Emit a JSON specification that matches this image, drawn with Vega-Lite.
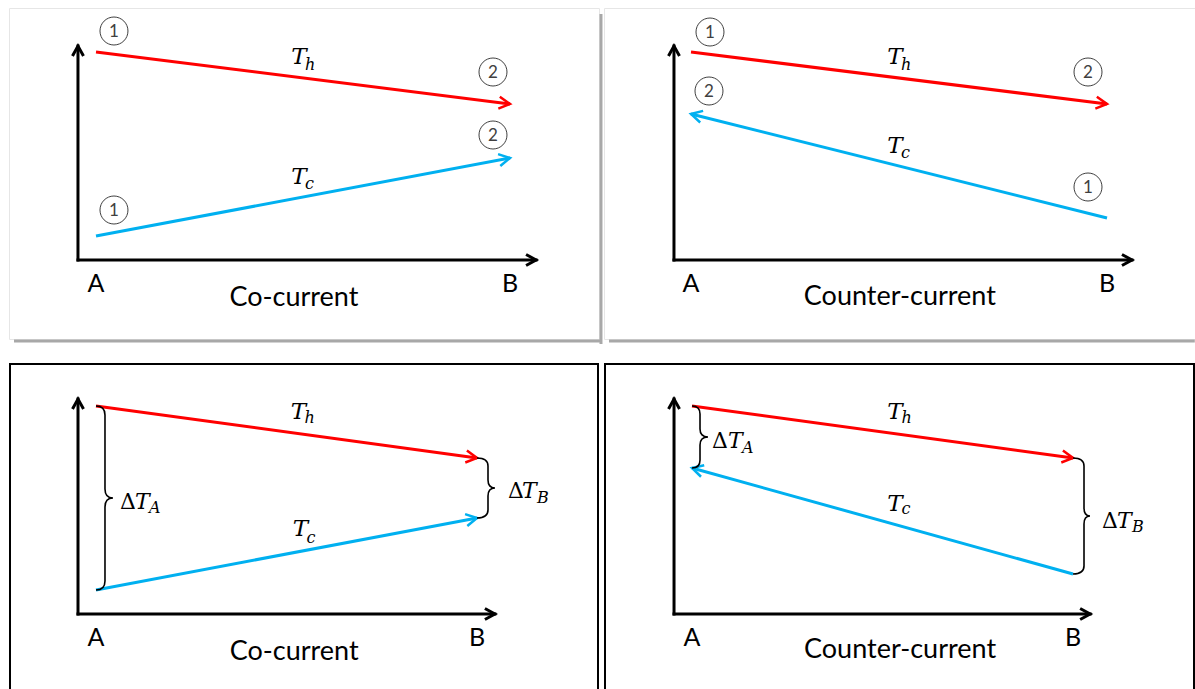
{
  "$schema": "https://vega.github.io/schema/vega-lite/v6.json",
  "background": "white",
  "padding": {"left": 8, "top": 7, "right": 0, "bottom": 0},
  "config": {"view": {"stroke": null}, "text": {"font": "Lato", "fill": "black"}},
  "datasets": {
    "streams": [
      {"fig": "co1", "stream": "h", "state": 1, "end": "A", "pos": 0, "T": 104},
      {"fig": "co1", "stream": "h", "state": 2, "end": "B", "pos": 100, "T": 78},
      {"fig": "co1", "stream": "c", "state": 1, "end": "A", "pos": 0, "T": 12},
      {"fig": "co1", "stream": "c", "state": 2, "end": "B", "pos": 100, "T": 51},
      {"fig": "counter1", "stream": "h", "state": 1, "end": "A", "pos": 0, "T": 104},
      {"fig": "counter1", "stream": "h", "state": 2, "end": "B", "pos": 100, "T": 78},
      {"fig": "counter1", "stream": "c", "state": 2, "end": "A", "pos": 0, "T": 73},
      {"fig": "counter1", "stream": "c", "state": 1, "end": "B", "pos": 100, "T": 21},
      {"fig": "co2", "stream": "h", "state": 1, "end": "A", "pos": 0, "T": 104},
      {"fig": "co2", "stream": "h", "state": 2, "end": "B", "pos": 100, "T": 78},
      {"fig": "co2", "stream": "c", "state": 1, "end": "A", "pos": 0, "T": 12},
      {"fig": "co2", "stream": "c", "state": 2, "end": "B", "pos": 100, "T": 48},
      {"fig": "counter2", "stream": "h", "state": 1, "end": "A", "pos": 0, "T": 104},
      {"fig": "counter2", "stream": "h", "state": 2, "end": "B", "pos": 100, "T": 78},
      {"fig": "counter2", "stream": "c", "state": 2, "end": "A", "pos": 0, "T": 73},
      {"fig": "counter2", "stream": "c", "state": 1, "end": "B", "pos": 100, "T": 20}
    ]
  },
  "columns": 2,
  "bounds": "flush",
  "spacing": {"row": 24, "column": 5},
  "concat": [
    {
      "width": 590, "height": 331,
      "view": {"stroke": "#e6e6e6", "strokeWidth": 1},
      "layer": [
        {"data": {"name": "streams"}, "transform": [{"filter": "datum.fig=='co1'"}], "mark": {"type": "line", "strokeWidth": 3},
         "encoding": {
           "x": {"field": "pos", "type": "quantitative", "scale": {"domain": [-21.01, 121.5], "nice": false, "zero": false}, "axis": null},
           "y": {"field": "T", "type": "quantitative", "scale": {"domain": [-39.5, 126], "nice": false, "zero": false}, "axis": null},
           "color": {"field": "stream", "type": "nominal", "scale": {"domain": ["h", "c"], "range": ["#ff0000", "#00b0f0"]}, "legend": null}}},
        {"data": {"values": [{}]}, "mark": {"type": "rule", "stroke": "#a8a8a8", "strokeWidth": 3}, "encoding": {"x": {"datum": 121.98, "axis": null}, "y": {"datum": 123, "axis": null}, "y2": {"datum": -42}}},
        {"data": {"values": [{}]}, "mark": {"type": "rule", "stroke": "#a8a8a8", "strokeWidth": 3}, "encoding": {"y": {"datum": -40.5, "axis": null}, "x": {"datum": -19.8, "axis": null}, "x2": {"datum": 122.2}}},
        {"data": {"values": [{}]}, "mark": {"type": "rule", "stroke": "black", "strokeWidth": 3, "strokeCap": "square"}, "encoding": {"x": {"datum": -4.35, "axis": null}, "y": {"datum": 0, "axis": null}, "y2": {"datum": 107}}},
        {"data": {"values": [{}]}, "mark": {"type": "rule", "stroke": "black", "strokeWidth": 3, "strokeCap": "square"}, "encoding": {"y": {"datum": 0, "axis": null}, "x": {"datum": -4.35, "axis": null}, "x2": {"datum": 106.3}}},
        {"data": {"values": [{}]}, "mark": {"type": "point", "shape": "M-10,-5.5L0,0L-10,5.5", "size": 4, "filled": false, "stroke": "black", "strokeWidth": 3, "opacity": 1, "angle": 270}, "encoding": {"x": {"datum": -4.35, "axis": null}, "y": {"datum": 107, "axis": null}}},
        {"data": {"values": [{}]}, "mark": {"type": "point", "shape": "M-10,-5.5L0,0L-10,5.5", "size": 4, "filled": false, "stroke": "black", "strokeWidth": 3, "opacity": 1, "angle": 0}, "encoding": {"x": {"datum": 106.3, "axis": null}, "y": {"datum": 0, "axis": null}}},
        {"data": {"name": "streams"}, "transform": [{"filter": "datum.fig=='co1'&&datum.stream=='h'&&datum.state==2"}], "mark": {"type": "point", "shape": "M-11,-6L0,0L-11,6", "size": 4, "filled": false, "stroke": "#ff0000", "strokeWidth": 2.5, "opacity": 1, "angle": 7.16}, "encoding": {"x": {"field": "pos", "type": "quantitative", "axis": null}, "y": {"field": "T", "type": "quantitative", "axis": null}}},
        {"data": {"name": "streams"}, "transform": [{"filter": "datum.fig=='co1'&&datum.stream=='c'&&datum.state==2"}], "mark": {"type": "point", "shape": "M-11,-6L0,0L-11,6", "size": 4, "filled": false, "stroke": "#00b0f0", "strokeWidth": 2.5, "opacity": 1, "angle": 349.33}, "encoding": {"x": {"field": "pos", "type": "quantitative", "axis": null}, "y": {"field": "T", "type": "quantitative", "axis": null}}},
        {"data": {"name": "streams"}, "transform": [{"filter": "datum.fig=='co1'&&datum.stream=='h'&&datum.state==1"}], "mark": {"type": "point", "shape": "M32,-21A14,14,0,1,1,4,-21A14,14,0,1,1,32,-21Z", "size": 4, "filled": false, "stroke": "#404040", "strokeWidth": 1, "opacity": 1}, "encoding": {"x": {"field": "pos", "type": "quantitative", "axis": null}, "y": {"field": "T", "type": "quantitative", "axis": null}}},
        {"data": {"name": "streams"}, "transform": [{"filter": "datum.fig=='co1'&&datum.stream=='h'&&datum.state==1"}], "mark": {"type": "text", "dx": 18, "dy": -20, "fontSize": 17, "fill": "#404040", "align": "center", "baseline": "middle"}, "encoding": {"x": {"field": "pos", "type": "quantitative", "axis": null}, "y": {"field": "T", "type": "quantitative", "axis": null}, "text": {"field": "state"}}},
        {"data": {"name": "streams"}, "transform": [{"filter": "datum.fig=='co1'&&datum.stream=='h'&&datum.state==2"}], "mark": {"type": "point", "shape": "M-3,-32A14,14,0,1,1,-31,-32A14,14,0,1,1,-3,-32Z", "size": 4, "filled": false, "stroke": "#404040", "strokeWidth": 1, "opacity": 1}, "encoding": {"x": {"field": "pos", "type": "quantitative", "axis": null}, "y": {"field": "T", "type": "quantitative", "axis": null}}},
        {"data": {"name": "streams"}, "transform": [{"filter": "datum.fig=='co1'&&datum.stream=='h'&&datum.state==2"}], "mark": {"type": "text", "dx": -17, "dy": -31, "fontSize": 17, "fill": "#404040", "align": "center", "baseline": "middle"}, "encoding": {"x": {"field": "pos", "type": "quantitative", "axis": null}, "y": {"field": "T", "type": "quantitative", "axis": null}, "text": {"field": "state"}}},
        {"data": {"name": "streams"}, "transform": [{"filter": "datum.fig=='co1'&&datum.stream=='c'&&datum.state==1"}], "mark": {"type": "point", "shape": "M32,-26A14,14,0,1,1,4,-26A14,14,0,1,1,32,-26Z", "size": 4, "filled": false, "stroke": "#404040", "strokeWidth": 1, "opacity": 1}, "encoding": {"x": {"field": "pos", "type": "quantitative", "axis": null}, "y": {"field": "T", "type": "quantitative", "axis": null}}},
        {"data": {"name": "streams"}, "transform": [{"filter": "datum.fig=='co1'&&datum.stream=='c'&&datum.state==1"}], "mark": {"type": "text", "dx": 18, "dy": -25, "fontSize": 17, "fill": "#404040", "align": "center", "baseline": "middle"}, "encoding": {"x": {"field": "pos", "type": "quantitative", "axis": null}, "y": {"field": "T", "type": "quantitative", "axis": null}, "text": {"field": "state"}}},
        {"data": {"name": "streams"}, "transform": [{"filter": "datum.fig=='co1'&&datum.stream=='c'&&datum.state==2"}], "mark": {"type": "point", "shape": "M-3,-23A14,14,0,1,1,-31,-23A14,14,0,1,1,-3,-23Z", "size": 4, "filled": false, "stroke": "#404040", "strokeWidth": 1, "opacity": 1}, "encoding": {"x": {"field": "pos", "type": "quantitative", "axis": null}, "y": {"field": "T", "type": "quantitative", "axis": null}}},
        {"data": {"name": "streams"}, "transform": [{"filter": "datum.fig=='co1'&&datum.stream=='c'&&datum.state==2"}], "mark": {"type": "text", "dx": -17, "dy": -22, "fontSize": 17, "fill": "#404040", "align": "center", "baseline": "middle"}, "encoding": {"x": {"field": "pos", "type": "quantitative", "axis": null}, "y": {"field": "T", "type": "quantitative", "axis": null}, "text": {"field": "state"}}},
        {"data": {"name": "streams"}, "transform": [{"filter": "datum.fig=='co1'&&datum.stream=='h'"}, {"aggregate": [{"op": "mean", "field": "pos", "as": "pos"}, {"op": "mean", "field": "T", "as": "T"}], "groupby": ["stream"]}], "mark": {"type": "text", "text": "T", "font": "DejaVu Serif", "fontStyle": "italic", "fontSize": 23, "align": "center", "baseline": "alphabetic", "dx": -4, "dy": -14}, "encoding": {"x": {"field": "pos", "type": "quantitative", "axis": null}, "y": {"field": "T", "type": "quantitative", "axis": null}}},
        {"data": {"name": "streams"}, "transform": [{"filter": "datum.fig=='co1'&&datum.stream=='h'"}, {"aggregate": [{"op": "mean", "field": "pos", "as": "pos"}, {"op": "mean", "field": "T", "as": "T"}], "groupby": ["stream"]}], "mark": {"type": "text", "font": "DejaVu Serif", "fontStyle": "italic", "fontSize": 16, "align": "left", "baseline": "alphabetic", "dx": 2, "dy": -8}, "encoding": {"x": {"field": "pos", "type": "quantitative", "axis": null}, "y": {"field": "T", "type": "quantitative", "axis": null}, "text": {"field": "stream"}}},
        {"data": {"name": "streams"}, "transform": [{"filter": "datum.fig=='co1'&&datum.stream=='c'"}, {"aggregate": [{"op": "mean", "field": "pos", "as": "pos"}, {"op": "mean", "field": "T", "as": "T"}], "groupby": ["stream"]}], "mark": {"type": "text", "text": "T", "font": "DejaVu Serif", "fontStyle": "italic", "fontSize": 23, "align": "center", "baseline": "alphabetic", "dx": -4, "dy": -13}, "encoding": {"x": {"field": "pos", "type": "quantitative", "axis": null}, "y": {"field": "T", "type": "quantitative", "axis": null}}},
        {"data": {"name": "streams"}, "transform": [{"filter": "datum.fig=='co1'&&datum.stream=='c'"}, {"aggregate": [{"op": "mean", "field": "pos", "as": "pos"}, {"op": "mean", "field": "T", "as": "T"}], "groupby": ["stream"]}], "mark": {"type": "text", "font": "DejaVu Serif", "fontStyle": "italic", "fontSize": 16, "align": "left", "baseline": "alphabetic", "dx": 2, "dy": -8}, "encoding": {"x": {"field": "pos", "type": "quantitative", "axis": null}, "y": {"field": "T", "type": "quantitative", "axis": null}, "text": {"field": "stream"}}},
        {"data": {"name": "streams"}, "transform": [{"filter": "datum.fig=='co1'"}, {"aggregate": [{"op": "count", "as": "n"}], "groupby": ["end", "pos"]}], "mark": {"type": "text", "fontSize": 25, "align": "center", "baseline": "alphabetic", "dy": 32}, "encoding": {"x": {"field": "pos", "type": "quantitative", "axis": null}, "y": {"datum": 0, "axis": null}, "text": {"field": "end"}}},
        {"data": {"values": [{}]}, "mark": {"type": "text", "text": "Co-current", "fontSize": 27, "align": "center", "baseline": "alphabetic", "dy": 46}, "encoding": {"x": {"datum": 47.8, "axis": null}, "y": {"datum": 0, "axis": null}}}
      ]
    },
    {
      "width": 591, "height": 331,
      "view": {"stroke": "#e6e6e6", "strokeWidth": 1},
      "layer": [
        {"data": {"name": "streams"}, "transform": [{"filter": "datum.fig=='counter1'"}], "mark": {"type": "line", "strokeWidth": 3},
         "encoding": {
           "x": {"field": "pos", "type": "quantitative", "scale": {"domain": [-20.91, 121.15], "nice": false, "zero": false}, "axis": null},
           "y": {"field": "T", "type": "quantitative", "scale": {"domain": [-39.5, 126], "nice": false, "zero": false}, "axis": null},
           "color": {"field": "stream", "type": "nominal", "scale": {"domain": ["h", "c"], "range": ["#ff0000", "#00b0f0"]}, "legend": null}}},
        {"data": {"values": [{}]}, "mark": {"type": "rule", "stroke": "#a8a8a8", "strokeWidth": 3}, "encoding": {"y": {"datum": -40.5, "axis": null}, "x": {"datum": -19.71, "axis": null}, "x2": {"datum": 121.1}}},
        {"data": {"values": [{}]}, "mark": {"type": "rule", "stroke": "black", "strokeWidth": 3, "strokeCap": "square"}, "encoding": {"x": {"datum": -4.09, "axis": null}, "y": {"datum": 0, "axis": null}, "y2": {"datum": 107}}},
        {"data": {"values": [{}]}, "mark": {"type": "rule", "stroke": "black", "strokeWidth": 3, "strokeCap": "square"}, "encoding": {"y": {"datum": 0, "axis": null}, "x": {"datum": -4.09, "axis": null}, "x2": {"datum": 106.0}}},
        {"data": {"values": [{}]}, "mark": {"type": "point", "shape": "M-10,-5.5L0,0L-10,5.5", "size": 4, "filled": false, "stroke": "black", "strokeWidth": 3, "opacity": 1, "angle": 270}, "encoding": {"x": {"datum": -4.09, "axis": null}, "y": {"datum": 107, "axis": null}}},
        {"data": {"values": [{}]}, "mark": {"type": "point", "shape": "M-10,-5.5L0,0L-10,5.5", "size": 4, "filled": false, "stroke": "black", "strokeWidth": 3, "opacity": 1, "angle": 0}, "encoding": {"x": {"datum": 106.0, "axis": null}, "y": {"datum": 0, "axis": null}}},
        {"data": {"name": "streams"}, "transform": [{"filter": "datum.fig=='counter1'&&datum.stream=='h'&&datum.state==2"}], "mark": {"type": "point", "shape": "M-11,-6L0,0L-11,6", "size": 4, "filled": false, "stroke": "#ff0000", "strokeWidth": 2.5, "opacity": 1, "angle": 7.13}, "encoding": {"x": {"field": "pos", "type": "quantitative", "axis": null}, "y": {"field": "T", "type": "quantitative", "axis": null}}},
        {"data": {"name": "streams"}, "transform": [{"filter": "datum.fig=='counter1'&&datum.stream=='c'&&datum.state==2"}], "mark": {"type": "point", "shape": "M-11,-6L0,0L-11,6", "size": 4, "filled": false, "stroke": "#00b0f0", "strokeWidth": 2.5, "opacity": 1, "angle": 194.04}, "encoding": {"x": {"field": "pos", "type": "quantitative", "axis": null}, "y": {"field": "T", "type": "quantitative", "axis": null}}},
        {"data": {"name": "streams"}, "transform": [{"filter": "datum.fig=='counter1'&&datum.stream=='h'&&datum.state==1"}], "mark": {"type": "point", "shape": "M33,-20A14,14,0,1,1,5,-20A14,14,0,1,1,33,-20Z", "size": 4, "filled": false, "stroke": "#404040", "strokeWidth": 1, "opacity": 1}, "encoding": {"x": {"field": "pos", "type": "quantitative", "axis": null}, "y": {"field": "T", "type": "quantitative", "axis": null}}},
        {"data": {"name": "streams"}, "transform": [{"filter": "datum.fig=='counter1'&&datum.stream=='h'&&datum.state==1"}], "mark": {"type": "text", "dx": 19, "dy": -19, "fontSize": 17, "fill": "#404040", "align": "center", "baseline": "middle"}, "encoding": {"x": {"field": "pos", "type": "quantitative", "axis": null}, "y": {"field": "T", "type": "quantitative", "axis": null}, "text": {"field": "state"}}},
        {"data": {"name": "streams"}, "transform": [{"filter": "datum.fig=='counter1'&&datum.stream=='h'&&datum.state==2"}], "mark": {"type": "point", "shape": "M-5,-32A14,14,0,1,1,-33,-32A14,14,0,1,1,-5,-32Z", "size": 4, "filled": false, "stroke": "#404040", "strokeWidth": 1, "opacity": 1}, "encoding": {"x": {"field": "pos", "type": "quantitative", "axis": null}, "y": {"field": "T", "type": "quantitative", "axis": null}}},
        {"data": {"name": "streams"}, "transform": [{"filter": "datum.fig=='counter1'&&datum.stream=='h'&&datum.state==2"}], "mark": {"type": "text", "dx": -19, "dy": -31, "fontSize": 17, "fill": "#404040", "align": "center", "baseline": "middle"}, "encoding": {"x": {"field": "pos", "type": "quantitative", "axis": null}, "y": {"field": "T", "type": "quantitative", "axis": null}, "text": {"field": "state"}}},
        {"data": {"name": "streams"}, "transform": [{"filter": "datum.fig=='counter1'&&datum.stream=='c'&&datum.state==2"}], "mark": {"type": "point", "shape": "M32,-23A14,14,0,1,1,4,-23A14,14,0,1,1,32,-23Z", "size": 4, "filled": false, "stroke": "#404040", "strokeWidth": 1, "opacity": 1}, "encoding": {"x": {"field": "pos", "type": "quantitative", "axis": null}, "y": {"field": "T", "type": "quantitative", "axis": null}}},
        {"data": {"name": "streams"}, "transform": [{"filter": "datum.fig=='counter1'&&datum.stream=='c'&&datum.state==2"}], "mark": {"type": "text", "dx": 18, "dy": -22, "fontSize": 17, "fill": "#404040", "align": "center", "baseline": "middle"}, "encoding": {"x": {"field": "pos", "type": "quantitative", "axis": null}, "y": {"field": "T", "type": "quantitative", "axis": null}, "text": {"field": "state"}}},
        {"data": {"name": "streams"}, "transform": [{"filter": "datum.fig=='counter1'&&datum.stream=='c'&&datum.state==1"}], "mark": {"type": "point", "shape": "M-5,-31A14,14,0,1,1,-33,-31A14,14,0,1,1,-5,-31Z", "size": 4, "filled": false, "stroke": "#404040", "strokeWidth": 1, "opacity": 1}, "encoding": {"x": {"field": "pos", "type": "quantitative", "axis": null}, "y": {"field": "T", "type": "quantitative", "axis": null}}},
        {"data": {"name": "streams"}, "transform": [{"filter": "datum.fig=='counter1'&&datum.stream=='c'&&datum.state==1"}], "mark": {"type": "text", "dx": -19, "dy": -30, "fontSize": 17, "fill": "#404040", "align": "center", "baseline": "middle"}, "encoding": {"x": {"field": "pos", "type": "quantitative", "axis": null}, "y": {"field": "T", "type": "quantitative", "axis": null}, "text": {"field": "state"}}},
        {"data": {"name": "streams"}, "transform": [{"filter": "datum.fig=='counter1'&&datum.stream=='h'"}, {"aggregate": [{"op": "mean", "field": "pos", "as": "pos"}, {"op": "mean", "field": "T", "as": "T"}], "groupby": ["stream"]}], "mark": {"type": "text", "text": "T", "font": "DejaVu Serif", "fontStyle": "italic", "fontSize": 23, "align": "center", "baseline": "alphabetic", "dx": -4, "dy": -14}, "encoding": {"x": {"field": "pos", "type": "quantitative", "axis": null}, "y": {"field": "T", "type": "quantitative", "axis": null}}},
        {"data": {"name": "streams"}, "transform": [{"filter": "datum.fig=='counter1'&&datum.stream=='h'"}, {"aggregate": [{"op": "mean", "field": "pos", "as": "pos"}, {"op": "mean", "field": "T", "as": "T"}], "groupby": ["stream"]}], "mark": {"type": "text", "font": "DejaVu Serif", "fontStyle": "italic", "fontSize": 16, "align": "left", "baseline": "alphabetic", "dx": 2, "dy": -8}, "encoding": {"x": {"field": "pos", "type": "quantitative", "axis": null}, "y": {"field": "T", "type": "quantitative", "axis": null}, "text": {"field": "stream"}}},
        {"data": {"name": "streams"}, "transform": [{"filter": "datum.fig=='counter1'&&datum.stream=='c'"}, {"aggregate": [{"op": "mean", "field": "pos", "as": "pos"}, {"op": "mean", "field": "T", "as": "T"}], "groupby": ["stream"]}], "mark": {"type": "text", "text": "T", "font": "DejaVu Serif", "fontStyle": "italic", "fontSize": 23, "align": "center", "baseline": "alphabetic", "dx": -4, "dy": -13}, "encoding": {"x": {"field": "pos", "type": "quantitative", "axis": null}, "y": {"field": "T", "type": "quantitative", "axis": null}}},
        {"data": {"name": "streams"}, "transform": [{"filter": "datum.fig=='counter1'&&datum.stream=='c'"}, {"aggregate": [{"op": "mean", "field": "pos", "as": "pos"}, {"op": "mean", "field": "T", "as": "T"}], "groupby": ["stream"]}], "mark": {"type": "text", "font": "DejaVu Serif", "fontStyle": "italic", "fontSize": 16, "align": "left", "baseline": "alphabetic", "dx": 2, "dy": -8}, "encoding": {"x": {"field": "pos", "type": "quantitative", "axis": null}, "y": {"field": "T", "type": "quantitative", "axis": null}, "text": {"field": "stream"}}},
        {"data": {"name": "streams"}, "transform": [{"filter": "datum.fig=='counter1'"}, {"aggregate": [{"op": "count", "as": "n"}], "groupby": ["end", "pos"]}], "mark": {"type": "text", "fontSize": 25, "align": "center", "baseline": "alphabetic", "dy": 32}, "encoding": {"x": {"field": "pos", "type": "quantitative", "axis": null}, "y": {"datum": 0, "axis": null}, "text": {"field": "end"}}},
        {"data": {"values": [{}]}, "mark": {"type": "text", "text": "Counter-current", "fontSize": 27, "align": "center", "baseline": "alphabetic", "dy": 45}, "encoding": {"x": {"datum": 50.2, "axis": null}, "y": {"datum": 0, "axis": null}}}
      ]
    },
    {
      "width": 590, "height": 326,
      "view": {"stroke": null},
      "layer": [
        {"data": {"name": "streams"}, "transform": [{"filter": "datum.fig=='co2'"}], "mark": {"type": "line", "strokeWidth": 3},
         "encoding": {
           "x": {"field": "pos", "type": "quantitative", "scale": {"domain": [-22.83, 132.02], "nice": false, "zero": false}, "axis": null},
           "y": {"field": "T", "type": "quantitative", "scale": {"domain": [-37.5, 125.5], "nice": false, "zero": false}, "axis": null},
           "color": {"field": "stream", "type": "nominal", "scale": {"domain": ["h", "c"], "range": ["#ff0000", "#00b0f0"]}, "legend": null}}},
        {"data": {"values": [{}]}, "mark": {"type": "rect", "clip": true, "filled": false, "stroke": "black", "strokeWidth": 4}, "encoding": {"x": {"datum": -22.83, "axis": null}, "x2": {"datum": 132.02}, "y": {"datum": 125.5, "axis": null}, "y2": {"datum": -60}}},
        {"data": {"values": [{}]}, "mark": {"type": "rule", "stroke": "black", "strokeWidth": 3, "strokeCap": "square"}, "encoding": {"x": {"datum": -4.72, "axis": null}, "y": {"datum": 0, "axis": null}, "y2": {"datum": 107.5}}},
        {"data": {"values": [{}]}, "mark": {"type": "rule", "stroke": "black", "strokeWidth": 3, "strokeCap": "square"}, "encoding": {"y": {"datum": 0, "axis": null}, "x": {"datum": -4.72, "axis": null}, "x2": {"datum": 104.7}}},
        {"data": {"values": [{}]}, "mark": {"type": "point", "shape": "M-10,-5.5L0,0L-10,5.5", "size": 4, "filled": false, "stroke": "black", "strokeWidth": 3, "opacity": 1, "angle": 270}, "encoding": {"x": {"datum": -4.72, "axis": null}, "y": {"datum": 107.5, "axis": null}}},
        {"data": {"values": [{}]}, "mark": {"type": "point", "shape": "M-10,-5.5L0,0L-10,5.5", "size": 4, "filled": false, "stroke": "black", "strokeWidth": 3, "opacity": 1, "angle": 0}, "encoding": {"x": {"datum": 104.7, "axis": null}, "y": {"datum": 0, "axis": null}}},
        {"data": {"name": "streams"}, "transform": [{"filter": "datum.fig=='co2'&&datum.stream=='h'&&datum.state==2"}], "mark": {"type": "point", "shape": "M-11,-6L0,0L-11,6", "size": 4, "filled": false, "stroke": "#ff0000", "strokeWidth": 2.5, "opacity": 1, "angle": 7.77}, "encoding": {"x": {"field": "pos", "type": "quantitative", "axis": null}, "y": {"field": "T", "type": "quantitative", "axis": null}}},
        {"data": {"name": "streams"}, "transform": [{"filter": "datum.fig=='co2'&&datum.stream=='c'&&datum.state==2"}], "mark": {"type": "point", "shape": "M-11,-6L0,0L-11,6", "size": 4, "filled": false, "stroke": "#00b0f0", "strokeWidth": 2.5, "opacity": 1, "angle": 349.3}, "encoding": {"x": {"field": "pos", "type": "quantitative", "axis": null}, "y": {"field": "T", "type": "quantitative", "axis": null}}},
        {"data": {"name": "streams"}, "transform": [{"filter": "datum.fig=='co2'&&datum.stream=='h'"}, {"aggregate": [{"op": "mean", "field": "pos", "as": "pos"}, {"op": "mean", "field": "T", "as": "T"}], "groupby": ["stream"]}], "mark": {"type": "text", "text": "T", "font": "DejaVu Serif", "fontStyle": "italic", "fontSize": 23, "align": "center", "baseline": "alphabetic", "dx": 12, "dy": -13}, "encoding": {"x": {"field": "pos", "type": "quantitative", "axis": null}, "y": {"field": "T", "type": "quantitative", "axis": null}}},
        {"data": {"name": "streams"}, "transform": [{"filter": "datum.fig=='co2'&&datum.stream=='h'"}, {"aggregate": [{"op": "mean", "field": "pos", "as": "pos"}, {"op": "mean", "field": "T", "as": "T"}], "groupby": ["stream"]}], "mark": {"type": "text", "font": "DejaVu Serif", "fontStyle": "italic", "fontSize": 16, "align": "left", "baseline": "alphabetic", "dx": 18, "dy": -9}, "encoding": {"x": {"field": "pos", "type": "quantitative", "axis": null}, "y": {"field": "T", "type": "quantitative", "axis": null}, "text": {"field": "stream"}}},
        {"data": {"name": "streams"}, "transform": [{"filter": "datum.fig=='co2'&&datum.stream=='c'"}, {"aggregate": [{"op": "mean", "field": "pos", "as": "pos"}, {"op": "mean", "field": "T", "as": "T"}], "groupby": ["stream"]}], "mark": {"type": "text", "text": "T", "font": "DejaVu Serif", "fontStyle": "italic", "fontSize": 23, "align": "center", "baseline": "alphabetic", "dx": 14, "dy": -18}, "encoding": {"x": {"field": "pos", "type": "quantitative", "axis": null}, "y": {"field": "T", "type": "quantitative", "axis": null}}},
        {"data": {"name": "streams"}, "transform": [{"filter": "datum.fig=='co2'&&datum.stream=='c'"}, {"aggregate": [{"op": "mean", "field": "pos", "as": "pos"}, {"op": "mean", "field": "T", "as": "T"}], "groupby": ["stream"]}], "mark": {"type": "text", "font": "DejaVu Serif", "fontStyle": "italic", "fontSize": 16, "align": "left", "baseline": "alphabetic", "dx": 20, "dy": -11}, "encoding": {"x": {"field": "pos", "type": "quantitative", "axis": null}, "y": {"field": "T", "type": "quantitative", "axis": null}, "text": {"field": "stream"}}},
        {"data": {"name": "streams"}, "transform": [{"filter": "datum.fig=='co2'&&datum.end=='A'"}, {"aggregate": [{"op": "mean", "field": "T", "as": "T"}], "groupby": ["end", "pos"]}], "mark": {"type": "point", "shape": "M0,-92Q9,-92,9,-83L9,-9Q9,0,17,0Q9,0,9,9L9,83Q9,92,0,92", "size": 4, "filled": false, "stroke": "black", "strokeWidth": 1.6, "opacity": 1}, "encoding": {"x": {"field": "pos", "type": "quantitative", "axis": null}, "y": {"field": "T", "type": "quantitative", "axis": null}}},
        {"data": {"name": "streams"}, "transform": [{"filter": "datum.fig=='co2'&&datum.end=='B'"}, {"aggregate": [{"op": "mean", "field": "T", "as": "T"}], "groupby": ["end", "pos"]}], "mark": {"type": "point", "shape": "M0,-30Q11,-30,11,-22L11,-8Q11,0,18,0Q11,0,11,8L11,22Q11,30,0,30", "size": 4, "filled": false, "stroke": "black", "strokeWidth": 1.6, "opacity": 1}, "encoding": {"x": {"field": "pos", "type": "quantitative", "axis": null}, "y": {"field": "T", "type": "quantitative", "axis": null}}},
        {"data": {"name": "streams"}, "transform": [{"filter": "datum.fig=='co2'&&datum.end=='A'"}, {"aggregate": [{"op": "mean", "field": "T", "as": "T"}], "groupby": ["end", "pos"]}], "mark": {"type": "text", "text": "Δ", "font": "DejaVu Serif", "fontSize": 22, "align": "left", "baseline": "alphabetic", "dx": 24, "dy": 11}, "encoding": {"x": {"field": "pos", "type": "quantitative", "axis": null}, "y": {"field": "T", "type": "quantitative", "axis": null}}},
        {"data": {"name": "streams"}, "transform": [{"filter": "datum.fig=='co2'&&datum.end=='A'"}, {"aggregate": [{"op": "mean", "field": "T", "as": "T"}], "groupby": ["end", "pos"]}], "mark": {"type": "text", "text": "T", "font": "DejaVu Serif", "fontStyle": "italic", "fontSize": 22, "align": "left", "baseline": "alphabetic", "dx": 39, "dy": 11}, "encoding": {"x": {"field": "pos", "type": "quantitative", "axis": null}, "y": {"field": "T", "type": "quantitative", "axis": null}}},
        {"data": {"name": "streams"}, "transform": [{"filter": "datum.fig=='co2'&&datum.end=='A'"}, {"aggregate": [{"op": "mean", "field": "T", "as": "T"}], "groupby": ["end", "pos"]}], "mark": {"type": "text", "font": "DejaVu Serif", "fontStyle": "italic", "fontSize": 16, "align": "left", "baseline": "alphabetic", "dx": 53, "dy": 15}, "encoding": {"x": {"field": "pos", "type": "quantitative", "axis": null}, "y": {"field": "T", "type": "quantitative", "axis": null}, "text": {"field": "end"}}},
        {"data": {"name": "streams"}, "transform": [{"filter": "datum.fig=='co2'&&datum.end=='B'"}, {"aggregate": [{"op": "mean", "field": "T", "as": "T"}], "groupby": ["end", "pos"]}], "mark": {"type": "text", "text": "Δ", "font": "DejaVu Serif", "fontSize": 22, "align": "left", "baseline": "alphabetic", "dx": 31, "dy": 10}, "encoding": {"x": {"field": "pos", "type": "quantitative", "axis": null}, "y": {"field": "T", "type": "quantitative", "axis": null}}},
        {"data": {"name": "streams"}, "transform": [{"filter": "datum.fig=='co2'&&datum.end=='B'"}, {"aggregate": [{"op": "mean", "field": "T", "as": "T"}], "groupby": ["end", "pos"]}], "mark": {"type": "text", "text": "T", "font": "DejaVu Serif", "fontStyle": "italic", "fontSize": 22, "align": "left", "baseline": "alphabetic", "dx": 45, "dy": 10}, "encoding": {"x": {"field": "pos", "type": "quantitative", "axis": null}, "y": {"field": "T", "type": "quantitative", "axis": null}}},
        {"data": {"name": "streams"}, "transform": [{"filter": "datum.fig=='co2'&&datum.end=='B'"}, {"aggregate": [{"op": "mean", "field": "T", "as": "T"}], "groupby": ["end", "pos"]}], "mark": {"type": "text", "font": "DejaVu Serif", "fontStyle": "italic", "fontSize": 16, "align": "left", "baseline": "alphabetic", "dx": 60, "dy": 15}, "encoding": {"x": {"field": "pos", "type": "quantitative", "axis": null}, "y": {"field": "T", "type": "quantitative", "axis": null}, "text": {"field": "end"}}},
        {"data": {"name": "streams"}, "transform": [{"filter": "datum.fig=='co2'"}, {"aggregate": [{"op": "count", "as": "n"}], "groupby": ["end", "pos"]}], "mark": {"type": "text", "fontSize": 25, "align": "center", "baseline": "alphabetic", "dy": 32}, "encoding": {"x": {"field": "pos", "type": "quantitative", "axis": null}, "y": {"datum": 0, "axis": null}, "text": {"field": "end"}}},
        {"data": {"values": [{}]}, "mark": {"type": "text", "text": "Co-current", "fontSize": 27, "align": "center", "baseline": "alphabetic", "dy": 46}, "encoding": {"x": {"datum": 52.0, "axis": null}, "y": {"datum": 0, "axis": null}}}
      ]
    },
    {
      "width": 591, "height": 326,
      "view": {"stroke": null},
      "layer": [
        {"data": {"name": "streams"}, "transform": [{"filter": "datum.fig=='counter2'"}], "mark": {"type": "line", "strokeWidth": 3},
         "encoding": {
           "x": {"field": "pos", "type": "quantitative", "scale": {"domain": [-23.1, 132.02], "nice": false, "zero": false}, "axis": null},
           "y": {"field": "T", "type": "quantitative", "scale": {"domain": [-37.5, 125.5], "nice": false, "zero": false}, "axis": null},
           "color": {"field": "stream", "type": "nominal", "scale": {"domain": ["h", "c"], "range": ["#ff0000", "#00b0f0"]}, "legend": null}}},
        {"data": {"values": [{}]}, "mark": {"type": "rect", "clip": true, "filled": false, "stroke": "black", "strokeWidth": 4}, "encoding": {"x": {"datum": -23.1, "axis": null}, "x2": {"datum": 132.02}, "y": {"datum": 125.5, "axis": null}, "y2": {"datum": -60}}},
        {"data": {"values": [{}]}, "mark": {"type": "rule", "stroke": "black", "strokeWidth": 3, "strokeCap": "square"}, "encoding": {"x": {"datum": -4.72, "axis": null}, "y": {"datum": 0, "axis": null}, "y2": {"datum": 107.5}}},
        {"data": {"values": [{}]}, "mark": {"type": "rule", "stroke": "black", "strokeWidth": 3, "strokeCap": "square"}, "encoding": {"y": {"datum": 0, "axis": null}, "x": {"datum": -4.72, "axis": null}, "x2": {"datum": 104.5}}},
        {"data": {"values": [{}]}, "mark": {"type": "point", "shape": "M-10,-5.5L0,0L-10,5.5", "size": 4, "filled": false, "stroke": "black", "strokeWidth": 3, "opacity": 1, "angle": 270}, "encoding": {"x": {"datum": -4.72, "axis": null}, "y": {"datum": 107.5, "axis": null}}},
        {"data": {"values": [{}]}, "mark": {"type": "point", "shape": "M-10,-5.5L0,0L-10,5.5", "size": 4, "filled": false, "stroke": "black", "strokeWidth": 3, "opacity": 1, "angle": 0}, "encoding": {"x": {"datum": 104.5, "axis": null}, "y": {"datum": 0, "axis": null}}},
        {"data": {"name": "streams"}, "transform": [{"filter": "datum.fig=='counter2'&&datum.stream=='h'&&datum.state==2"}], "mark": {"type": "point", "shape": "M-11,-6L0,0L-11,6", "size": 4, "filled": false, "stroke": "#ff0000", "strokeWidth": 2.5, "opacity": 1, "angle": 7.77}, "encoding": {"x": {"field": "pos", "type": "quantitative", "axis": null}, "y": {"field": "T", "type": "quantitative", "axis": null}}},
        {"data": {"name": "streams"}, "transform": [{"filter": "datum.fig=='counter2'&&datum.stream=='c'&&datum.state==2"}], "mark": {"type": "point", "shape": "M-11,-6L0,0L-11,6", "size": 4, "filled": false, "stroke": "#00b0f0", "strokeWidth": 2.5, "opacity": 1, "angle": 195.55}, "encoding": {"x": {"field": "pos", "type": "quantitative", "axis": null}, "y": {"field": "T", "type": "quantitative", "axis": null}}},
        {"data": {"name": "streams"}, "transform": [{"filter": "datum.fig=='counter2'&&datum.stream=='h'"}, {"aggregate": [{"op": "mean", "field": "pos", "as": "pos"}, {"op": "mean", "field": "T", "as": "T"}], "groupby": ["stream"]}], "mark": {"type": "text", "text": "T", "font": "DejaVu Serif", "fontStyle": "italic", "fontSize": 23, "align": "center", "baseline": "alphabetic", "dx": 12.5, "dy": -13}, "encoding": {"x": {"field": "pos", "type": "quantitative", "axis": null}, "y": {"field": "T", "type": "quantitative", "axis": null}}},
        {"data": {"name": "streams"}, "transform": [{"filter": "datum.fig=='counter2'&&datum.stream=='h'"}, {"aggregate": [{"op": "mean", "field": "pos", "as": "pos"}, {"op": "mean", "field": "T", "as": "T"}], "groupby": ["stream"]}], "mark": {"type": "text", "font": "DejaVu Serif", "fontStyle": "italic", "fontSize": 16, "align": "left", "baseline": "alphabetic", "dx": 19, "dy": -9}, "encoding": {"x": {"field": "pos", "type": "quantitative", "axis": null}, "y": {"field": "T", "type": "quantitative", "axis": null}, "text": {"field": "stream"}}},
        {"data": {"name": "streams"}, "transform": [{"filter": "datum.fig=='counter2'&&datum.stream=='c'"}, {"aggregate": [{"op": "mean", "field": "pos", "as": "pos"}, {"op": "mean", "field": "T", "as": "T"}], "groupby": ["stream"]}], "mark": {"type": "text", "text": "T", "font": "DejaVu Serif", "fontStyle": "italic", "fontSize": 23, "align": "center", "baseline": "alphabetic", "dx": 12.5, "dy": -10}, "encoding": {"x": {"field": "pos", "type": "quantitative", "axis": null}, "y": {"field": "T", "type": "quantitative", "axis": null}}},
        {"data": {"name": "streams"}, "transform": [{"filter": "datum.fig=='counter2'&&datum.stream=='c'"}, {"aggregate": [{"op": "mean", "field": "pos", "as": "pos"}, {"op": "mean", "field": "T", "as": "T"}], "groupby": ["stream"]}], "mark": {"type": "text", "font": "DejaVu Serif", "fontStyle": "italic", "fontSize": 16, "align": "left", "baseline": "alphabetic", "dx": 19, "dy": -7}, "encoding": {"x": {"field": "pos", "type": "quantitative", "axis": null}, "y": {"field": "T", "type": "quantitative", "axis": null}, "text": {"field": "stream"}}},
        {"data": {"name": "streams"}, "transform": [{"filter": "datum.fig=='counter2'&&datum.end=='A'"}, {"aggregate": [{"op": "mean", "field": "T", "as": "T"}], "groupby": ["end", "pos"]}], "mark": {"type": "point", "shape": "M0,-31Q8,-31,8,-23L8,-8Q8,0,16,0Q8,0,8,8L8,23Q8,31,0,31", "size": 4, "filled": false, "stroke": "black", "strokeWidth": 1.6, "opacity": 1}, "encoding": {"x": {"field": "pos", "type": "quantitative", "axis": null}, "y": {"field": "T", "type": "quantitative", "axis": null}}},
        {"data": {"name": "streams"}, "transform": [{"filter": "datum.fig=='counter2'&&datum.end=='B'"}, {"aggregate": [{"op": "mean", "field": "T", "as": "T"}], "groupby": ["end", "pos"]}], "mark": {"type": "point", "shape": "M0,-58Q11,-58,11,-50L11,-8Q11,0,17,0Q11,0,11,8L11,50Q11,58,0,58", "size": 4, "filled": false, "stroke": "black", "strokeWidth": 1.6, "opacity": 1}, "encoding": {"x": {"field": "pos", "type": "quantitative", "axis": null}, "y": {"field": "T", "type": "quantitative", "axis": null}}},
        {"data": {"name": "streams"}, "transform": [{"filter": "datum.fig=='counter2'&&datum.end=='A'"}, {"aggregate": [{"op": "mean", "field": "T", "as": "T"}], "groupby": ["end", "pos"]}], "mark": {"type": "text", "text": "Δ", "font": "DejaVu Serif", "fontSize": 22, "align": "left", "baseline": "alphabetic", "dx": 20, "dy": 11}, "encoding": {"x": {"field": "pos", "type": "quantitative", "axis": null}, "y": {"field": "T", "type": "quantitative", "axis": null}}},
        {"data": {"name": "streams"}, "transform": [{"filter": "datum.fig=='counter2'&&datum.end=='A'"}, {"aggregate": [{"op": "mean", "field": "T", "as": "T"}], "groupby": ["end", "pos"]}], "mark": {"type": "text", "text": "T", "font": "DejaVu Serif", "fontStyle": "italic", "fontSize": 22, "align": "left", "baseline": "alphabetic", "dx": 36, "dy": 11}, "encoding": {"x": {"field": "pos", "type": "quantitative", "axis": null}, "y": {"field": "T", "type": "quantitative", "axis": null}}},
        {"data": {"name": "streams"}, "transform": [{"filter": "datum.fig=='counter2'&&datum.end=='A'"}, {"aggregate": [{"op": "mean", "field": "T", "as": "T"}], "groupby": ["end", "pos"]}], "mark": {"type": "text", "font": "DejaVu Serif", "fontStyle": "italic", "fontSize": 16, "align": "left", "baseline": "alphabetic", "dx": 50, "dy": 16}, "encoding": {"x": {"field": "pos", "type": "quantitative", "axis": null}, "y": {"field": "T", "type": "quantitative", "axis": null}, "text": {"field": "end"}}},
        {"data": {"name": "streams"}, "transform": [{"filter": "datum.fig=='counter2'&&datum.end=='B'"}, {"aggregate": [{"op": "mean", "field": "T", "as": "T"}], "groupby": ["end", "pos"]}], "mark": {"type": "text", "text": "Δ", "font": "DejaVu Serif", "fontSize": 22, "align": "left", "baseline": "alphabetic", "dx": 29, "dy": 12}, "encoding": {"x": {"field": "pos", "type": "quantitative", "axis": null}, "y": {"field": "T", "type": "quantitative", "axis": null}}},
        {"data": {"name": "streams"}, "transform": [{"filter": "datum.fig=='counter2'&&datum.end=='B'"}, {"aggregate": [{"op": "mean", "field": "T", "as": "T"}], "groupby": ["end", "pos"]}], "mark": {"type": "text", "text": "T", "font": "DejaVu Serif", "fontStyle": "italic", "fontSize": 22, "align": "left", "baseline": "alphabetic", "dx": 44, "dy": 12}, "encoding": {"x": {"field": "pos", "type": "quantitative", "axis": null}, "y": {"field": "T", "type": "quantitative", "axis": null}}},
        {"data": {"name": "streams"}, "transform": [{"filter": "datum.fig=='counter2'&&datum.end=='B'"}, {"aggregate": [{"op": "mean", "field": "T", "as": "T"}], "groupby": ["end", "pos"]}], "mark": {"type": "text", "font": "DejaVu Serif", "fontStyle": "italic", "fontSize": 16, "align": "left", "baseline": "alphabetic", "dx": 59, "dy": 16}, "encoding": {"x": {"field": "pos", "type": "quantitative", "axis": null}, "y": {"field": "T", "type": "quantitative", "axis": null}, "text": {"field": "end"}}},
        {"data": {"name": "streams"}, "transform": [{"filter": "datum.fig=='counter2'"}, {"aggregate": [{"op": "count", "as": "n"}], "groupby": ["end", "pos"]}], "mark": {"type": "text", "fontSize": 25, "align": "center", "baseline": "alphabetic", "dy": 32}, "encoding": {"x": {"field": "pos", "type": "quantitative", "axis": null}, "y": {"datum": 0, "axis": null}, "text": {"field": "end"}}},
        {"data": {"values": [{}]}, "mark": {"type": "text", "text": "Counter-current", "fontSize": 27, "align": "center", "baseline": "alphabetic", "dy": 44}, "encoding": {"x": {"datum": 54.6, "axis": null}, "y": {"datum": 0, "axis": null}}}
      ]
    }
  ]
}
